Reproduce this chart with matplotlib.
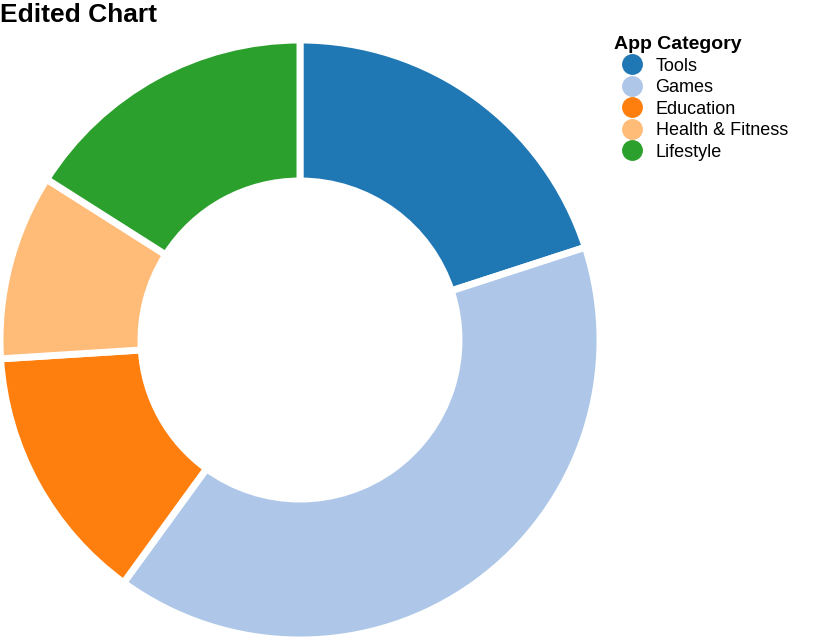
import matplotlib
matplotlib.use("Agg")
import matplotlib.pyplot as plt
from matplotlib.lines import Line2D

categories = ["Tools", "Games", "Education", "Health & Fitness", "Lifestyle"]
values = [20, 40, 14, 10, 16]
colors = ["#1f77b4", "#aec7e8", "#ff7f0e", "#ffbb78", "#2ca02c"]

plt.rcParams["font.family"] = ["Liberation Sans", "DejaVu Sans"]

fig = plt.figure(figsize=(8.16, 6.4), dpi=100)
ax = fig.add_axes([0.0, 0.0, 600 / 816, 600 / 640])
ax.pie(values, colors=colors, startangle=90, counterclock=False,
       radius=1.0,
       wedgeprops=dict(width=0.47, edgecolor="white", linewidth=5, joinstyle="round"))
ax.set_xlim(-1.0, 1.0); ax.set_ylim(-1.0, 1.0)
ax.set_aspect("equal")

fig.text(0.0, 0.995, "Edited Chart", fontsize=19, fontweight="bold", ha="left", va="top")

handles = [Line2D([0], [0], marker="o", linestyle="", markersize=14,
                  markerfacecolor=c, markeredgecolor=c) for c in colors]
leg = fig.legend(handles, categories, title="App Category", loc="upper left",
                 bbox_to_anchor=(770 / 816 - 0.2, 0.955), frameon=False,
                 fontsize=13, title_fontproperties=dict(size=14, weight="bold"),
                 handletextpad=0.3, labelspacing=0.25, borderaxespad=0)
leg._legend_box.align = "left"

fig.savefig("out.png", dpi=100)
